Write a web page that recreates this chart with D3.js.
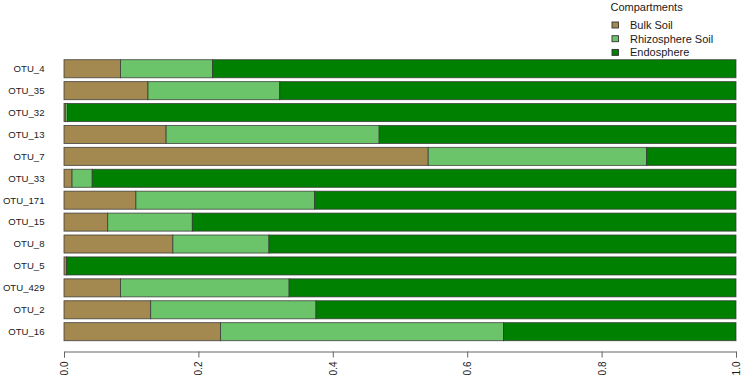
<!DOCTYPE html>
<html>
<head>
<meta charset="utf-8">
<script src="https://cdn.jsdelivr.net/npm/d3@7"></script>
<style>
  body { margin: 0; background: #fff; }
  text { font-family: "Liberation Sans", Arial, sans-serif; fill: #1a1a1a; }
</style>
</head>
<body>
<div id="chart"></div>
<script>
// OTUs from top to bottom
const otus = ["OTU_4", "OTU_35", "OTU_32", "OTU_13", "OTU_7", "OTU_33", "OTU_171",
              "OTU_15", "OTU_8", "OTU_5", "OTU_429", "OTU_2", "OTU_16"];
// proportion per compartment
const bulkSoil = [0.084, 0.125, 0.002, 0.152, 0.542, 0.012, 0.107, 0.065, 0.162, 0.004, 0.084, 0.129, 0.233];
const rhizoSoil = [0.137, 0.196, 0.003, 0.317, 0.325, 0.030, 0.266, 0.126, 0.143, 0.000, 0.251, 0.246, 0.421];
const endosphere = otus.map((d, i) => +(1 - bulkSoil[i] - rhizoSoil[i]).toFixed(3));
const compartments = ["Bulk Soil", "Rhizosphere Soil", "Endosphere"];
const compColors = ["#A3884F", "#6CC46A", "#008000"];
const xTicks = [0, 0.2, 0.4, 0.6, 0.8, 1.0];

const width = 743, height = 380;

const svg = d3.select("#chart")
    .append("svg")
    .attr("width", width)
    .attr("height", height);

const xScale = d3.scaleLinear().domain([0, 1]).range([64, 736]);
const yScale = d3.scaleBand()
    .domain(otus)
    .range([59.7, 340.7])
    .paddingInner(0.176)
    .paddingOuter(0);

// stack the data
const rows = otus.map((name, i) => ({
    name: name,
    "Bulk Soil": bulkSoil[i],
    "Rhizosphere Soil": rhizoSoil[i],
    "Endosphere": endosphere[i]
}));
const series = d3.stack().keys(compartments)(rows);

svg.append("g")
    .selectAll("g")
    .data(series)
    .enter()
    .append("g")
    .attr("fill", (d, i) => compColors[i])
    .selectAll("rect")
    .data(d => d)
    .enter()
    .append("rect")
    .attr("x", d => xScale(d[0]))
    .attr("y", d => yScale(d.data.name))
    .attr("width", d => Math.max(0, xScale(d[1]) - xScale(d[0])))
    .attr("height", yScale.bandwidth())
    .attr("stroke", "#333")
    .attr("stroke-opacity", 0.8)
    .attr("stroke-width", 0.9);

// y labels
svg.append("g")
    .selectAll("text")
    .data(otus)
    .enter()
    .append("text")
    .attr("x", 44.5)
    .attr("y", d => yScale(d) + yScale.bandwidth() / 2)
    .attr("dy", "0.35em")
    .attr("text-anchor", "end")
    .style("font-size", "9.6px")
    .text(d => d);

// x axis
const xAxis = svg.append("g")
    .attr("transform", "translate(0,351.5)")
    .call(d3.axisBottom(xScale).tickValues(xTicks).tickFormat(d3.format(".1f")).tickSizeOuter(0).tickSize(6));
xAxis.select(".domain").attr("stroke", "#666");
xAxis.selectAll(".tick line").attr("stroke", "#666");
xAxis.selectAll(".tick text")
    .attr("transform", "rotate(-90)")
    .attr("x", -10)
    .attr("y", 0)
    .attr("dy", "0.35em")
    .attr("text-anchor", "end")
    .style("font-size", "10px")
    .style("font-family", "Liberation Sans, Arial, sans-serif")
    .attr("fill", "#1a1a1a");

// legend
const legend = svg.append("g").attr("transform", "translate(610,0)");
legend.append("text")
    .attr("x", 0.5)
    .attr("y", 7.5)
    .attr("dy", "0.35em")
    .style("font-size", "11px")
    .text("Compartments");

const items = legend.selectAll(".legend-item")
    .data(compartments)
    .enter()
    .append("g")
    .attr("class", "legend-item")
    .attr("transform", (d, i) => `translate(0, ${25 + i * 13.7})`);

items.append("rect")
    .attr("x", 2)
    .attr("y", -3)
    .attr("width", 6.5)
    .attr("height", 6)
    .attr("fill", (d, i) => compColors[i])
    .attr("stroke", "#333")
    .attr("stroke-width", 0.9);

items.append("text")
    .attr("x", 20)
    .attr("y", 0)
    .attr("dy", "0.35em")
    .style("font-size", "11px")
    .text(d => d);
</script>
</body>
</html>
